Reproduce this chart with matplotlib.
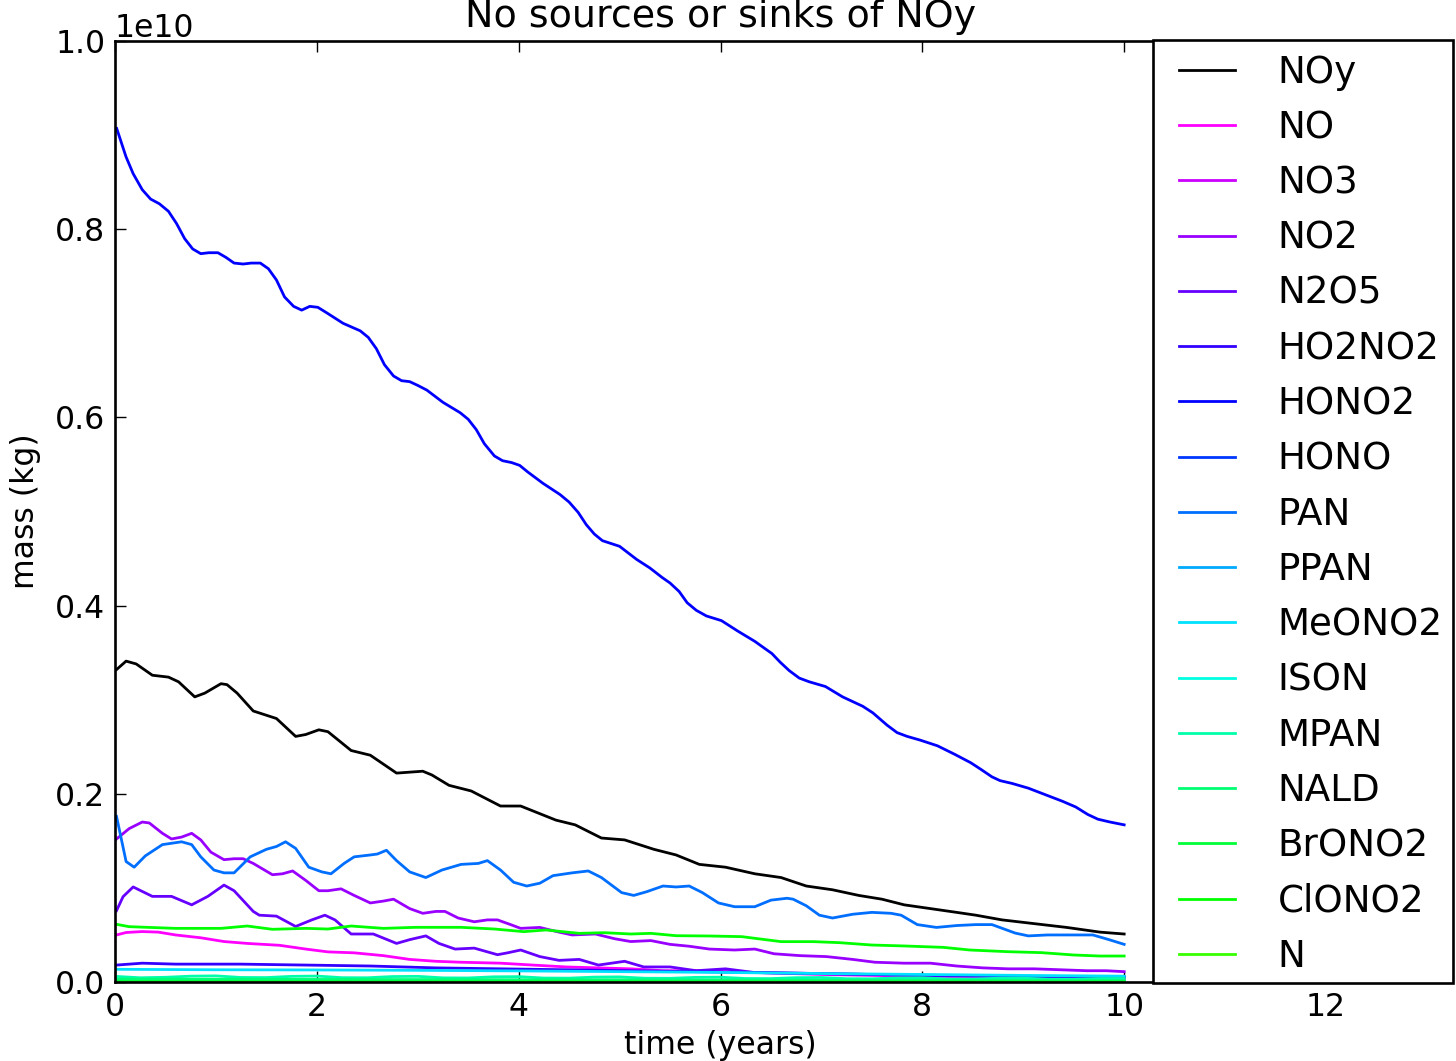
import matplotlib
matplotlib.use('Agg')
import matplotlib.pyplot as plt
from matplotlib.patches import Rectangle

# ---------------- data (mass in units of 1e10 kg, time in years) ----------------
species = ['NOy', 'NO', 'NO3', 'NO2', 'N2O5', 'HO2NO2', 'HONO2', 'HONO', 'PAN',
           'PPAN', 'MeONO2', 'ISON', 'MPAN', 'NALD', 'BrONO2', 'ClONO2', 'N']

t_noy = [0.015, 0.11, 0.21, 0.37, 0.53, 0.63, 0.79, 0.89, 1.05, 1.11, 1.21, 1.37, 1.60,
         1.79, 1.89, 2.02, 2.11, 2.34, 2.53, 2.79, 2.92, 3.05, 3.14, 3.31, 3.53, 3.82,
         4.02, 4.37, 4.56, 4.82, 5.05, 5.34, 5.56, 5.79, 6.05, 6.34, 6.60, 6.85, 7.11,
         7.37, 7.60, 7.82, 8.08, 8.34, 8.53, 8.79, 9.11, 9.43, 9.76, 10.0]
m_noy = [0.332, 0.341, 0.338, 0.326, 0.324, 0.319, 0.303, 0.307, 0.317, 0.316, 0.307,
         0.288, 0.280, 0.261, 0.263, 0.268, 0.266, 0.246, 0.241, 0.222, 0.223, 0.224,
         0.220, 0.209, 0.203, 0.187, 0.187, 0.172, 0.167, 0.153, 0.151, 0.141, 0.135,
         0.125, 0.122, 0.115, 0.111, 0.102, 0.098, 0.092, 0.088, 0.082, 0.078, 0.074,
         0.071, 0.066, 0.062, 0.058, 0.053, 0.051]

t_no = [0.015, 0.11, 0.27, 0.43, 0.60, 0.85, 1.08, 1.31, 1.63, 1.89, 2.11, 2.37, 2.66,
        2.92, 3.18, 3.43, 3.82, 4.14, 4.47, 4.79, 5.11, 5.43, 5.76, 6.08, 6.40, 7.0,
        8.0, 9.0, 10.0]
m_no = [0.050, 0.0526, 0.0536, 0.053, 0.050, 0.047, 0.043, 0.041, 0.039, 0.035, 0.032,
        0.031, 0.028, 0.024, 0.022, 0.021, 0.020, 0.018, 0.016, 0.015, 0.014, 0.012,
        0.012, 0.011, 0.010, 0.008, 0.006, 0.005, 0.004]

t_no3 = [0.0, 1.0, 2.0, 3.0, 4.0, 5.0, 6.0, 7.0, 8.0, 9.0, 10.0]
m_no3 = [0.0015, 0.0014, 0.0013, 0.0012, 0.0011, 0.0010, 0.0009, 0.0008, 0.0007,
         0.0006, 0.0005]

t_no2 = [0.015, 0.14, 0.27, 0.34, 0.47, 0.56, 0.66, 0.76, 0.85, 0.95, 1.08, 1.18, 1.27,
         1.37, 1.56, 1.66, 1.76, 1.89, 2.02, 2.11, 2.24, 2.37, 2.53, 2.66, 2.76, 2.92,
         3.05, 3.18, 3.27, 3.40, 3.56, 3.69, 3.79, 3.92, 4.02, 4.21, 4.40, 4.53, 4.76,
         4.95, 5.11, 5.31, 5.50, 5.69, 5.89, 6.14, 6.34, 6.53, 6.79, 7.05, 7.31, 7.53,
         7.82, 8.08, 8.34, 8.60, 8.85, 9.11, 9.37, 9.63, 9.82, 10.0]
m_no2 = [0.152, 0.163, 0.170, 0.169, 0.158, 0.152, 0.154, 0.158, 0.151, 0.138, 0.130,
         0.131, 0.131, 0.126, 0.114, 0.115, 0.118, 0.108, 0.097, 0.097, 0.099, 0.092,
         0.084, 0.086, 0.088, 0.078, 0.073, 0.075, 0.075, 0.068, 0.064, 0.066, 0.066,
         0.061, 0.057, 0.058, 0.053, 0.050, 0.051, 0.046, 0.043, 0.044, 0.040, 0.038,
         0.035, 0.034, 0.035, 0.030, 0.028, 0.027, 0.024, 0.021, 0.020, 0.020, 0.017,
         0.015, 0.014, 0.014, 0.013, 0.012, 0.012, 0.011]

t_n2o5 = [0.015, 0.08, 0.18, 0.37, 0.56, 0.76, 0.92, 1.08, 1.18, 1.37, 1.43, 1.60, 1.79,
          1.95, 2.08, 2.18, 2.34, 2.56, 2.79, 2.92, 3.08, 3.21, 3.37, 3.56, 3.79, 3.89,
          4.02, 4.21, 4.40, 4.60, 4.79, 5.05, 5.24, 5.50, 5.76, 6.05, 6.34, 7.0, 8.0,
          9.0, 10.0]
m_n2o5 = [0.0758, 0.0907, 0.101, 0.091, 0.091, 0.082, 0.091, 0.103, 0.097, 0.075,
          0.071, 0.070, 0.059, 0.066, 0.071, 0.066, 0.051, 0.051, 0.041, 0.045, 0.049,
          0.041, 0.035, 0.036, 0.029, 0.031, 0.034, 0.027, 0.023, 0.024, 0.018, 0.022,
          0.016, 0.016, 0.012, 0.014, 0.010, 0.009, 0.007, 0.006, 0.005]

t_ho2no2 = [0.015, 0.27, 0.60, 1.24, 1.89, 2.53, 3.18, 3.82, 4.47, 5.11, 5.76, 6.40,
            7.69, 8.98, 10.0]
m_ho2no2 = [0.018, 0.020, 0.019, 0.019, 0.018, 0.017, 0.015, 0.014, 0.013, 0.012,
            0.011, 0.010, 0.0076, 0.006, 0.0054]

t_hono2 = [0.017, 0.109, 0.18, 0.27, 0.353, 0.44, 0.53, 0.61, 0.69, 0.77, 0.85, 0.93,
           1.02, 1.10, 1.18, 1.27, 1.35, 1.44, 1.52, 1.60, 1.68, 1.77, 1.85, 1.93, 2.01,
           2.10, 2.26, 2.43, 2.51, 2.59, 2.67, 2.76, 2.84, 2.92, 3.00, 3.09, 3.25, 3.42,
           3.50, 3.58, 3.66, 3.76, 3.84, 3.93, 4.01, 4.09, 4.24, 4.41, 4.50, 4.59, 4.67,
           4.75, 4.83, 5.00, 5.17, 5.30, 5.42, 5.50, 5.59, 5.67, 5.76, 5.86, 6.01, 6.17,
           6.34, 6.51, 6.59, 6.68, 6.78, 6.88, 7.04, 7.21, 7.41, 7.51, 7.65, 7.75, 7.85,
           7.98, 8.15, 8.32, 8.48, 8.58, 8.69, 8.77, 8.89, 9.05, 9.22, 9.39, 9.52, 9.64,
           9.74, 9.86, 10.0]
m_hono2 = [0.907, 0.877, 0.859, 0.842, 0.832, 0.827, 0.819, 0.806, 0.790, 0.779, 0.774,
           0.775, 0.775, 0.770, 0.764, 0.763, 0.764, 0.764, 0.758, 0.746, 0.728, 0.718,
           0.714, 0.718, 0.717, 0.711, 0.700, 0.692, 0.685, 0.673, 0.656, 0.644, 0.639,
           0.638, 0.634, 0.629, 0.616, 0.605, 0.598, 0.587, 0.572, 0.559, 0.554, 0.552,
           0.549, 0.542, 0.530, 0.518, 0.510, 0.499, 0.486, 0.476, 0.469, 0.463, 0.449,
           0.440, 0.430, 0.424, 0.415, 0.403, 0.395, 0.389, 0.384, 0.373, 0.362, 0.349,
           0.340, 0.331, 0.323, 0.319, 0.314, 0.303, 0.293, 0.286, 0.273, 0.265, 0.261,
           0.257, 0.251, 0.242, 0.233, 0.226, 0.218, 0.214, 0.211, 0.206, 0.199, 0.192,
           0.186, 0.178, 0.173, 0.170, 0.167]

t_hono = [0.0, 1.0, 2.0, 3.0, 4.0, 5.0, 6.0, 7.0, 8.0, 9.0, 10.0]
m_hono = [0.0010, 0.0009, 0.0009, 0.0008, 0.0008, 0.0007, 0.0006, 0.0006, 0.0005,
          0.0005, 0.0004]

t_pan = [0.015, 0.11, 0.19, 0.30, 0.47, 0.66, 0.76, 0.85, 0.98, 1.08, 1.18, 1.34, 1.50,
         1.60, 1.69, 1.79, 1.92, 2.05, 2.14, 2.27, 2.37, 2.53, 2.60, 2.69, 2.79, 2.92,
         3.08, 3.24, 3.43, 3.60, 3.69, 3.82, 3.95, 4.08, 4.21, 4.34, 4.53, 4.69, 4.82,
         5.02, 5.14, 5.27, 5.43, 5.56, 5.69, 5.82, 5.98, 6.14, 6.34, 6.50, 6.66, 6.72,
         6.85, 6.98, 7.11, 7.31, 7.50, 7.69, 7.79, 7.95, 8.14, 8.34, 8.53, 8.69, 8.92,
         9.05, 9.24, 9.50, 9.69, 9.85, 10.0]
m_pan = [0.176, 0.128, 0.122, 0.134, 0.146, 0.149, 0.146, 0.133, 0.119, 0.116, 0.116,
         0.133, 0.141, 0.144, 0.149, 0.142, 0.122, 0.117, 0.115, 0.126, 0.133, 0.135,
         0.136, 0.140, 0.129, 0.117, 0.111, 0.119, 0.125, 0.126, 0.129, 0.119, 0.106,
         0.102, 0.105, 0.113, 0.116, 0.118, 0.111, 0.095, 0.092, 0.096, 0.102, 0.101,
         0.102, 0.095, 0.084, 0.080, 0.080, 0.087, 0.089, 0.088, 0.081, 0.071, 0.068,
         0.072, 0.074, 0.073, 0.071, 0.061, 0.058, 0.060, 0.061, 0.061, 0.052, 0.049,
         0.050, 0.050, 0.050, 0.045, 0.040]

t_ppan = [0.0, 1.0, 2.0, 3.0, 4.0, 5.0, 6.0, 7.0, 8.0, 9.0, 10.0]
m_ppan = [0.0020, 0.0019, 0.0018, 0.0017, 0.0016, 0.0015, 0.0013, 0.0012, 0.0011,
          0.0009, 0.0008]

t_meono2 = [0.0, 1.0, 2.0, 3.0, 4.0, 5.0, 6.0, 7.0, 8.0, 9.0, 10.0]
m_meono2 = [0.0135, 0.0130, 0.0128, 0.0124, 0.0118, 0.0110, 0.0102, 0.0090, 0.0080,
            0.0070, 0.0062]

t_ison = [0.0, 1.0, 2.0, 3.0, 4.0, 5.0, 6.0, 7.0, 8.0, 9.0, 10.0]
m_ison = [0.0015, 0.0014, 0.0014, 0.0013, 0.0012, 0.0012, 0.0011, 0.0010, 0.0009,
          0.0009, 0.0008]

t_mpan = [0.0, 0.25, 0.5, 0.75, 1.0, 1.25, 1.5, 1.75, 2.0, 2.25, 2.5, 2.75, 3.0, 3.25,
          3.5, 3.75, 4.0, 4.25, 4.5, 4.75, 5.0, 5.25, 5.5, 5.75, 6.0, 6.25, 6.5, 6.75,
          7.0, 7.25, 7.5, 7.75, 8.0, 8.25, 8.5, 8.75, 9.0, 9.25, 9.5, 9.75, 10.0]
m_mpan = [0.0060, 0.0045, 0.0050, 0.0062, 0.0065, 0.0048, 0.0047, 0.0060, 0.0063,
          0.0046, 0.0045, 0.0058, 0.0060, 0.0044, 0.0043, 0.0055, 0.0057, 0.0042,
          0.0041, 0.0052, 0.0054, 0.0040, 0.0039, 0.0049, 0.0051, 0.0037, 0.0036,
          0.0046, 0.0048, 0.0035, 0.0034, 0.0043, 0.0045, 0.0032, 0.0031, 0.0040,
          0.0041, 0.0030, 0.0029, 0.0037, 0.0038]

t_nald = [0.0, 1.0, 2.0, 3.0, 4.0, 5.0, 6.0, 7.0, 8.0, 9.0, 10.0]
m_nald = [0.0030, 0.0029, 0.0027, 0.0026, 0.0024, 0.0023, 0.0021, 0.0019, 0.0018,
          0.0016, 0.0015]

t_brono2 = [0.0, 2.0, 4.0, 6.0, 8.0, 10.0]
m_brono2 = [0.0006, 0.0005, 0.0005, 0.0004, 0.0004, 0.0003]

t_clono2 = [0.015, 0.14, 0.60, 1.05, 1.31, 1.56, 1.89, 2.11, 2.34, 2.66, 2.98, 3.43,
            3.76, 4.05, 4.27, 4.60, 4.85, 5.11, 5.31, 5.56, 5.89, 6.21, 6.60, 6.92,
            7.18, 7.50, 7.82, 8.21, 8.47, 8.85, 9.18, 9.50, 9.76, 10.0]
m_clono2 = [0.0613, 0.0588, 0.0570, 0.0570, 0.0595, 0.0560, 0.0570, 0.0563, 0.0595,
            0.0570, 0.0581, 0.0581, 0.0563, 0.0535, 0.0553, 0.0517, 0.0524, 0.0510,
            0.0517, 0.0492, 0.0489, 0.0482, 0.0429, 0.0429, 0.0418, 0.0393, 0.0383,
            0.0368, 0.0340, 0.0322, 0.0312, 0.0287, 0.0276, 0.0276]

t_n = [0.0, 5.0, 10.0]
m_n = [0.0002, 0.0002, 0.0002]

series_t = [t_noy, t_no, t_no3, t_no2, t_n2o5, t_ho2no2, t_hono2, t_hono, t_pan, t_ppan,
            t_meono2, t_ison, t_mpan, t_nald, t_brono2, t_clono2, t_n]
series_m = [m_noy, m_no, m_no3, m_no2, m_n2o5, m_ho2no2, m_hono2, m_hono, m_pan, m_ppan,
            m_meono2, m_ison, m_mpan, m_nald, m_brono2, m_clono2, m_n]
UNIT = 1e10

# ---------------- style ----------------
colors = ['#000000', '#ff00ff', '#cc00ff', '#9900ff', '#6600ff', '#3300ff', '#0000ff',
          '#0037ff', '#006eff', '#00aaff', '#00e1ff', '#00ffe1', '#00ffaa', '#00ff73',
          '#00ff37', '#00ff00', '#37ff00']

BASE = 22.7
plt.rcParams['font.family'] = ['DejaVu Sans']
plt.rcParams['font.size'] = BASE

fig = plt.figure(figsize=(14.56, 10.61), dpi=100)
fig.patch.set_facecolor('white')
W, H = 1456.0, 1061.0
ax = fig.add_axes([115 / W, 1 - 982 / H, (1326 - 115) / W, (982 - 41) / H])

handles = []
for name, tt, mm, c in zip(species, series_t, series_m, colors):
    ln, = ax.plot(tt, [v * UNIT for v in mm], color=c, lw=2.0, label=name)
    handles.append(ln)

ax.set_xlim(0, 12)
ax.set_ylim(0, 1.0e10)
ax.set_xticks([0, 2, 4, 6, 8, 10, 12])
ax.set_yticks([0, 0.2e10, 0.4e10, 0.6e10, 0.8e10, 1.0e10])
ax.tick_params(direction='in', top=True, right=True, length=7.6, width=1.0,
               labelsize=BASE, pad=7)
for sp in ax.spines.values():
    sp.set_linewidth(1.9)
ax.yaxis.get_offset_text().set_fontsize(BASE)

ax.set_title('No sources or sinks of NOy', fontsize=27.4, pad=10)
ax.set_xlabel('time (years)', fontsize=BASE, labelpad=5.5)
ax.set_ylabel('mass (kg)', fontsize=BASE, labelpad=10)

# legend box (drawn over the right part of the axes)
box = Rectangle((1153 / W, 1 - 983 / H), 300 / W, (983 - 40) / H,
                transform=fig.transFigure, facecolor='white', edgecolor='black',
                linewidth=1.9, zorder=3)
fig.patches.append(box)

leg = fig.legend(handles, species, loc='upper left',
                 bbox_to_anchor=(1179 / W, 1 - 54 / H), bbox_transform=fig.transFigure,
                 frameon=False, fontsize=26.8, borderpad=0.0, borderaxespad=0.0,
                 handlelength=1.5, handletextpad=1.15, labelspacing=0.49)
leg.set_zorder(4)

fig.savefig('out.png', dpi=100, facecolor='white')
